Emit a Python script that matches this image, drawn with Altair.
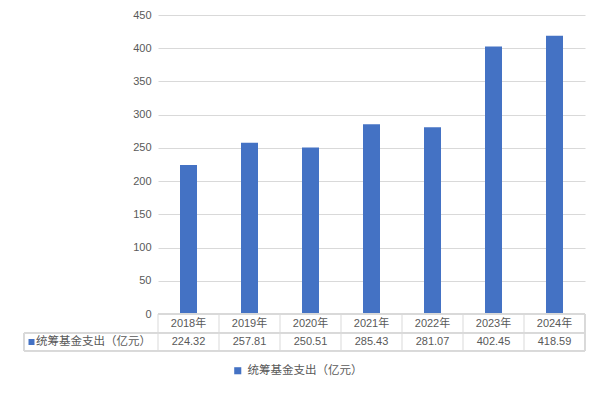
import altair as alt
import pandas as pd

years = ["2018年", "2019年", "2020年", "2021年", "2022年", "2023年", "2024年"]
values = [224.32, 257.81, 250.51, 285.43, 281.07, 402.45, 418.59]
series_name = "统筹基金支出（亿元）"
y_ticks = [0, 50, 100, 150, 200, 250, 300, 350, 400, 450]

df = pd.DataFrame({"year": years, "value": values, "series": series_name,
                   "label": [f"{v:.2f}" for v in values]})

W, H = 427, 299
BLUE = "#4472C4"
GRID = "#D9D9D9"
TXT = "#595959"
NUMFONT = "Liberation Sans, Noto Sans CJK SC"
CJK = "Noto Sans CJK SC"

xenc = alt.X("year:N", sort=years, axis=None,
             scale=alt.Scale(paddingInner=0, paddingOuter=0))

base = alt.Chart(df)

bars = base.mark_bar(size=17).encode(
    x=xenc,
    y=alt.Y("value:Q", scale=alt.Scale(domain=[0, 450]),
            axis=alt.Axis(values=y_ticks, title=None, grid=True, gridColor=GRID,
                          domain=False, ticks=False, labelColor=TXT,
                          labelFontSize=11, labelFont=NUMFONT, labelPadding=7)),
    color=alt.Color("series:N", scale=alt.Scale(range=[BLUE]),
                    legend=alt.Legend(title=None, orient="none", legendX=74, legendY=350,
                                      symbolType="square", symbolSize=50,
                                      labelFontSize=11.5, labelFont=CJK, labelColor=TXT,
                                      symbolStrokeWidth=0)),
)

cat_text = base.mark_text(fontSize=11, font=NUMFONT, color=TXT, baseline="middle").encode(
    x=alt.X("year:N", sort=years, bandPosition=0.5, axis=None),
    y=alt.value(H + 10), text="year:N")

val_text = base.mark_text(fontSize=11, font=NUMFONT, color=TXT, baseline="middle").encode(
    x=alt.X("year:N", sort=years, bandPosition=0.5, axis=None),
    y=alt.value(H + 28), text="label:N")

vlines = base.mark_rule(color=GRID, strokeWidth=1).encode(
    x=alt.X("year:N", sort=years, bandPosition=0, axis=None),
    y=alt.value(H), y2=alt.value(H + 37))

end_vline = base.mark_rule(color=GRID).encode(
    x=alt.value(W), y=alt.value(H), y2=alt.value(H + 37))
left_vline = base.mark_rule(color=GRID).encode(
    x=alt.value(-134), y=alt.value(H + 19), y2=alt.value(H + 37))

h0 = base.mark_rule(color=GRID).encode(x=alt.value(0), x2=alt.value(W), y=alt.value(H))
h1 = base.mark_rule(color=GRID).encode(x=alt.value(-134), x2=alt.value(W), y=alt.value(H + 19))
h2 = base.mark_rule(color=GRID).encode(x=alt.value(-134), x2=alt.value(W), y=alt.value(H + 37))

legend_sq = alt.Chart(pd.DataFrame({"s": [series_name]})).mark_square(
    size=36, color=BLUE, opacity=1).encode(x=alt.value(-126.5), y=alt.value(H + 28))
legend_txt = alt.Chart(pd.DataFrame({"s": [series_name]})).mark_text(
    fontSize=11.5, font=CJK, color=TXT, align="left", baseline="middle").encode(
    x=alt.value(-122), y=alt.value(H + 28), text="s:N")

chart = alt.layer(bars, vlines, end_vline, left_vline, h0, h1, h2,
                  cat_text, val_text, legend_sq, legend_txt).properties(
    width=W, height=H,
    autosize=alt.AutoSizeParams(type="none"),
    padding={"left": 150, "top": 7, "right": 8, "bottom": 68},
).configure_view(stroke=None)

chart.save("out.html", embed_options={"renderer": "svg", "actions": False})
